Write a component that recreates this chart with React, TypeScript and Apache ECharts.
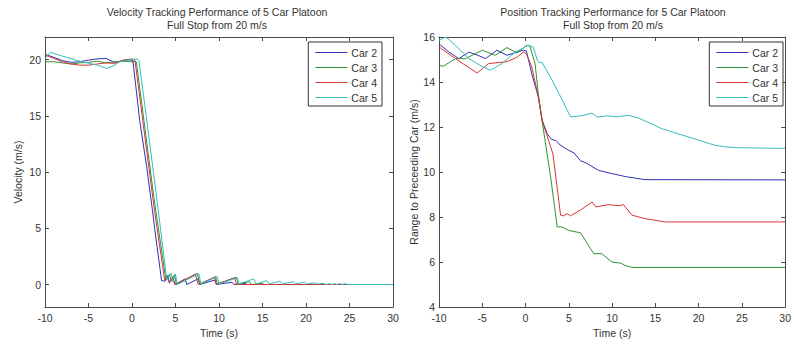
import React, { useEffect, useRef } from "react";
import * as echarts from "echarts";

const carNames = ["Car 2", "Car 3", "Car 4", "Car 5"];
const carColors = ["#3131b4", "#30922f", "#d63636", "#34bcbc"];

const velXTicks = [-10, -5, 0, 5, 10, 15, 20, 25, 30];
const velYTicks = [0, 5, 10, 15, 20];
const posYTicks = [4, 6, 8, 10, 12, 14, 16];

// Velocity (m/s) vs time (s)
const velCar2: number[][] = [
  [-10, 20.45], [-9, 20.2], [-8, 19.9], [-7, 19.75], [-6, 19.8], [-5, 19.95], [-4, 20.05], [-3, 20.1],
  [-2, 19.75], [-1, 19.9], [-0.3, 20.0], [0.1, 19.9], [0.9, 14.5], [1.7, 10.4], [2.45, 6.0], [2.6, 5.0],
  [3.4, 0.35], [3.8, 0.3], [4.1, 0.8], [4.3, 0.2], [4.7, 0.5], [5.0, 0.0], [6.1, 0.5], [6.3, 0.0],
  [7.6, 0.5], [7.8, 0.0], [9.5, 0.4], [9.7, 0.0], [11.5, 0.2], [11.7, 0.0], [13, 0.1], [13.2, 0], [30, 0],
];
const velCar3: number[][] = [
  [-10, 19.8], [-9, 19.8], [-8, 19.7], [-7, 19.6], [-6, 19.7], [-5, 19.75], [-4, 19.85], [-3, 19.7],
  [-2, 19.8], [-1, 19.85], [0, 19.8], [0.5, 19.8], [1.5, 13.8], [2.5, 7.8], [3.9, 0.4], [4.3, 0.9],
  [4.5, 0.3], [4.9, 0.9], [5.1, 0.0], [7.5, 1.0], [7.8, 0.0], [9.6, 0.7], [9.8, 0.05], [12.0, 0.65],
  [12.2, 0.05], [13.5, 0.25], [13.7, 0.0], [15, 0.1], [15.2, 0], [30, 0],
];
const velCar4: number[][] = [
  [-10, 20.4], [-9, 20.1], [-8, 19.8], [-7, 19.6], [-6, 19.5], [-5, 19.5], [-4, 19.6], [-3, 19.7],
  [-2, 19.65], [-1, 19.95], [0, 20.05], [0.35, 19.9], [1.5, 13.0], [2.6, 6.5], [3.75, 0.4], [4.1, 0.6],
  [4.3, 0.1], [4.7, 0.7], [4.9, 0.0], [7.3, 0.9], [7.6, 0.0], [9.5, 0.65], [9.7, 0.0], [11.8, 0.6],
  [12.0, 0.0], [30, 0],
];
const velCar5: number[][] = [
  [-10, 20.1], [-9.4, 20.65], [-8, 20.3], [-6, 19.85], [-4, 19.5], [-2.9, 19.2], [-2, 19.5], [-1.4, 19.8],
  [0, 20.0], [0.6, 20.05], [0.8, 19.9], [2.0, 12.8], [3.0, 6.7], [4.0, 0.4], [4.5, 1.0], [4.7, 0.2],
  [5.0, 0.9], [5.2, 0.0], [7.7, 0.95], [7.9, 0.05], [9.8, 0.7], [10.0, 0.05], [12.1, 0.6], [12.3, 0.05],
  [14.0, 0.5], [14.3, 0.05], [15.5, 0.35], [15.8, 0.05], [17, 0.3], [17.3, 0.05], [18.5, 0.25], [18.8, 0.05],
  [19.8, 0.2], [20.1, 0.05], [21.0, 0.15], [21.3, 0.05], [22, 0.1], [22.3, 0], [22.8, 0.08], [22.9, 0],
  [23.4, 0.08], [23.5, 0], [24.0, 0.08], [24.1, 0], [24.6, 0.08], [24.7, 0], [30, 0],
];

// Range to preceding car vs time (s)
const posCar2: number[][] = [
  [-10, 15.63], [-9.8, 15.63], [-8.85, 15.33], [-7.7, 15.04], [-6.55, 15.33], [-5.6, 15.2], [-4.64, 15.04],
  [-3.3, 15.41], [-2.15, 15.19], [-1.2, 15.3], [-0.24, 15.41], [0.1, 15.38], [0.72, 14.37], [1.48, 13.33],
  [1.93, 12.3], [2.5, 11.7], [3.0, 11.45], [3.5, 11.4], [4.0, 11.2], [5.0, 10.96], [5.6, 10.85], [6.35, 10.5],
  [7.0, 10.4], [8.45, 10.07], [9.98, 9.93], [11.5, 9.8], [13.8, 9.66], [30, 9.65],
];
const posCar3: number[][] = [
  [-10, 14.74], [-9.5, 14.7], [-8.1, 15.04], [-6.94, 15.04], [-5.0, 15.41], [-3.5, 15.19], [-2.15, 15.53],
  [-1.0, 15.29], [0.15, 15.63], [0.5, 15.6], [1.1, 14.82], [1.5, 13.4], [1.9, 12.3], [2.9, 9.78],
  [3.66, 7.56], [4.2, 7.56], [5, 7.4], [6.35, 7.3], [7.0, 6.9], [7.88, 6.37], [8.8, 6.37], [9.98, 6.0],
  [11.0, 5.95], [11.5, 5.85], [12.3, 5.76], [30, 5.76],
];
const posCar4: number[][] = [
  [-10, 15.59], [-9.8, 15.5], [-8.1, 15.04], [-5.6, 14.4], [-4.26, 14.82], [-2.15, 14.9], [-1.0, 15.1],
  [-0.24, 15.33], [0.1, 15.25], [0.72, 14.67], [1.48, 13.33], [1.9, 12.3], [2.5, 11.6], [3.17, 10.8],
  [4.05, 8.08], [4.4, 8.05], [4.8, 8.15], [5.2, 8.05], [6.5, 8.35], [7.7, 8.67], [8.1, 8.45], [9.6, 8.55],
  [10.8, 8.5], [11.3, 8.55], [12.3, 8.08], [13.8, 7.93], [16.1, 7.78], [30, 7.78],
];
const posCar5: number[][] = [
  [-10, 15.85], [-9.6, 15.93], [-9.2, 16.0], [-8.1, 15.63], [-6.55, 15.04], [-5.3, 14.75], [-4.07, 14.52],
  [-2.72, 14.82], [-1.2, 15.33], [0.33, 15.63], [0.6, 15.6], [0.9, 15.55], [1.37, 14.96], [1.65, 14.85],
  [1.9, 14.88], [2.3, 14.6], [3.09, 14.07], [4.24, 13.2], [5.2, 12.45], [6.5, 12.5], [7.68, 12.62],
  [8.25, 12.44], [9.5, 12.5], [10.5, 12.45], [11.9, 12.52], [13.04, 12.4], [14.5, 12.15], [15.7, 11.93],
  [17.2, 11.75], [18.8, 11.56], [20.3, 11.38], [21.85, 11.19], [23, 11.12], [24.5, 11.08], [30, 11.05],
];

const velData = [velCar2, velCar3, velCar4, velCar5];
const posData = [posCar2, posCar3, posCar4, posCar5];

const FONT = "'Liberation Sans', Arial, sans-serif";
const TXT = "#333";
const FRAME = "#4a4a4a";
const FS = 10.5;

function xAxes(gridIndex: number) {
  const base = {
    type: "value" as const,
    gridIndex,
    min: -10,
    max: 30,
    interval: 5,
    splitLine: { show: false },
    axisLine: { show: true, onZero: false, lineStyle: { color: FRAME, width: 1 } },
    axisTick: { show: true, inside: true, length: 4, lineStyle: { color: FRAME } },
  };
  return [
    {
      ...base,
      position: "bottom",
      name: "Time (s)",
      nameLocation: "middle",
      nameGap: 18,
      nameTextStyle: { color: TXT, fontSize: FS, fontFamily: FONT },
      axisLabel: { show: true, color: TXT, fontSize: FS, fontFamily: FONT, margin: 5, customValues: velXTicks },
    },
    { ...base, position: "top", axisLabel: { show: false } },
  ];
}

function yAxes(gridIndex: number, min: number, max: number, ticks: number[], name: string, gap: number) {
  const base = {
    type: "value" as const,
    gridIndex,
    min,
    max,
    splitLine: { show: false },
    axisLine: { show: true, onZero: false, lineStyle: { color: FRAME, width: 1 } },
    axisTick: { show: true, inside: true, length: 4, lineStyle: { color: FRAME }, customValues: ticks },
  };
  return [
    {
      ...base,
      position: "left",
      name,
      nameLocation: "middle",
      nameGap: gap,
      nameTextStyle: { color: TXT, fontSize: FS, fontFamily: FONT },
      axisLabel: { show: true, color: TXT, fontSize: FS, fontFamily: FONT, margin: 4, customValues: ticks },
    },
    { ...base, position: "right", axisLabel: { show: false } },
  ];
}

export default function App() {
  const ref = useRef<HTMLDivElement>(null);
  useEffect(() => {
    document.body.style.margin = "0";
    const chart = echarts.init(ref.current!, undefined, { renderer: "svg" });
    const series: any[] = [];
    velData.forEach((d, i) =>
      series.push({
        type: "line",
        name: carNames[i],
        xAxisIndex: 0,
        yAxisIndex: 0,
        data: d,
        symbol: "none",
        color: carColors[i],
        lineStyle: { width: 1, color: carColors[i] },
      })
    );
    posData.forEach((d, i) =>
      series.push({
        type: "line",
        name: carNames[i],
        xAxisIndex: 2,
        yAxisIndex: 2,
        data: d,
        symbol: "none",
        color: carColors[i],
        lineStyle: { width: 1, color: carColors[i] },
      })
    );
    const legendBase = {
      orient: "vertical",
      data: carNames,
      icon: "path://M0,0 L30,0 L30,1 L0,1 Z",
      itemWidth: 32,
      itemHeight: 1.2,
      itemGap: 4,
      padding: [5, 5, 3, 7],
      backgroundColor: "#fff",
      borderColor: "#333",
      borderWidth: 1,
      borderRadius: 0,
      selectedMode: false,
      textStyle: { color: TXT, fontSize: FS, fontFamily: FONT, padding: [0, 0, 0, -1] },
    };
    const titleStyle = { color: TXT, fontSize: FS, fontWeight: "normal", fontFamily: FONT, lineHeight: 13 };
    chart.setOption({
      animation: false,
      backgroundColor: "#fff",
      title: [
        {
          text: "Velocity Tracking Performance of 5 Car Platoon\nFull Stop from 20 m/s",
          left: 217,
          top: 5,
          padding: 0,
          textAlign: "center",
          textStyle: titleStyle,
        },
        {
          text: "Position Tracking Performance for 5 Car Platoon\nFull Stop from 20 m/s",
          left: 613,
          top: 5,
          padding: 0,
          textAlign: "center",
          textStyle: titleStyle,
        },
      ],
      legend: [
        { ...legendBase, right: 412, top: 42 },
        { ...legendBase, right: 11, top: 42 },
      ],
      grid: [
        { left: 45, top: 37, width: 348, height: 270 },
        { left: 439, top: 37, width: 348.5, height: 270 },
      ],
      xAxis: [...xAxes(0), ...xAxes(1)],
      yAxis: [
        ...yAxes(0, -2, 22, velYTicks, "Velocity (m/s)", 22),
        ...yAxes(1, 4, 16, posYTicks, "Range to Preceeding Car (m/s)", 20),
      ],
      series,
    });
    return () => chart.dispose();
  }, []);
  return <div ref={ref} style={{ width: 794, height: 344, position: "fixed", left: 0, top: 0 }} />;
}
